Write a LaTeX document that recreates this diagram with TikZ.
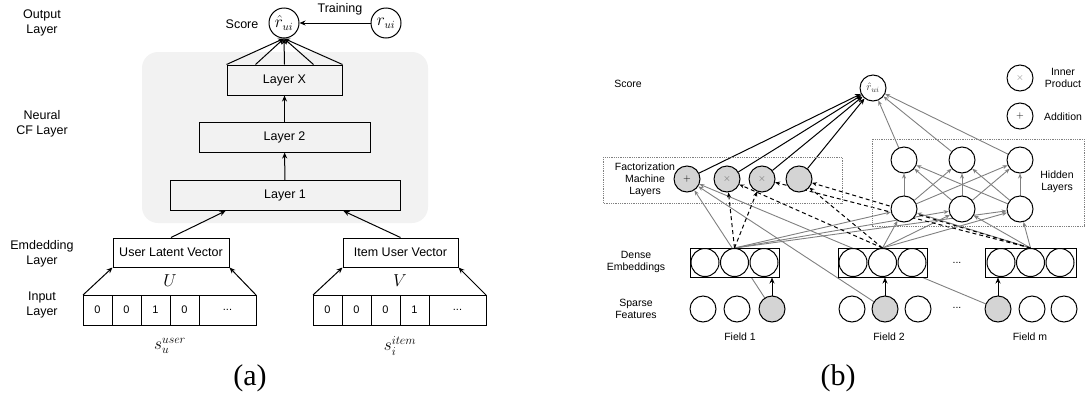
\documentclass[tikz,border=0pt]{standalone}
\usepackage{fontspec}
\setmainfont{Liberation Sans}
\newfontfamily\capfont{Liberation Serif}
\usetikzlibrary{arrows.meta,positioning,backgrounds}
\definecolor{panelc}{HTML}{F2F2F2}
\definecolor{unitc}{HTML}{D4D4D4}
\definecolor{wirec}{HTML}{808080}
\tikzset{
  tag/.style={align=center, font=\fontsize{12.5}{15}\selectfont},
  tagb/.style={align=center, font=\fontsize{10.5}{12}\selectfont},
  mathtag/.style={font=\fontsize{17}{19}\selectfont},
  layer/.style={draw, line width=1pt, minimum height=30pt, fill=white, font=\fontsize{12.5}{15}\selectfont},
  cell/.style={draw, line width=1pt, minimum width=29pt, minimum height=30pt, outer sep=0pt, inner sep=0pt, font=\fontsize{11}{13}\selectfont},
  unit/.style={draw, circle, line width=1pt, fill=white, inner sep=0pt, minimum size=26pt, font=\fontsize{10}{12}\selectfont},
  arr/.style={line width=1pt, -{Stealth[length=6pt,width=5pt]}},
  wire/.style={wirec, line width=0.9pt, -{Stealth[length=5pt,width=4pt]}},
  dashwire/.style={line width=1pt, dash pattern=on 4pt off 3pt, -{Stealth[length=5pt,width=4pt]}},
  frame/.style={draw=wirec, densely dotted, line width=0.8pt},
}

\begin{document}
\begin{tikzpicture}[x=1pt,y=-1pt]
\useasboundingbox (0,0) rectangle (1086,394);
% (a) neural collaborative filtering
\node[tag] (outl) at (42,23) {Output\\Layer};
\node[tag] (ncfl) at (42,124) {Neural\\CF Layer};
\node[tag] (embl) at (42,254) {Emdedding\\Layer};
\node[tag] (inl) at (42,305) {Input\\Layer};
\fill[panelc, rounded corners=16pt] (142,52) rectangle (428,223);
\node[layer, fill=none, minimum width=115pt] (lx) at (284.5,80) {Layer X};
\node[layer, fill=none, minimum width=171pt] (l2) at (284.5,137) {Layer 2};
\node[layer, fill=none, minimum width=230pt] (l1) at (285,195.5) {Layer 1};
\node[unit, minimum size=30pt, font=\fontsize{16}{18}\selectfont] (rhat) at (284,23) {$\hat{r}_{ui}$};
\node[unit, minimum size=30pt, font=\fontsize{16}{18}\selectfont] (rtrue) at (386,23) {$r_{ui}$};
\node[tag] (score) at (242,24) {Score};
\node[tag] (train) at (340,9) {Training};
\draw[arr] (rtrue) -- (rhat);
\draw[arr] (lx.north west) -- (rhat.south);
\draw[arr] ([xshift=29pt]lx.north west) -- (rhat.south);
\draw[arr] (lx.north) -- (rhat.south);
\draw[arr] ([xshift=-29pt]lx.north east) -- (rhat.south);
\draw[arr] (lx.north east) -- (rhat.south);
\draw[arr] (l2) -- (lx);
\draw[arr] (l1) -- (l2);
\node[layer, minimum width=116pt, minimum height=29pt] (uvec) at (171,252.5) {User Latent Vector};
\node[layer, minimum width=115pt, minimum height=29pt] (ivec) at (400.5,252.5) {Item User Vector};
\draw[arr] (uvec.north) -- ([xshift=56pt]l1.south west);
\draw[arr] (ivec.north) -- ([xshift=-57pt]l1.south east);
\node[cell] (u1) at (97.5,310) {0};
\node[cell, right=0pt of u1] (u2) {0};
\node[cell, right=0pt of u2] (u3) {1};
\node[cell, right=0pt of u3] (u4) {0};
\node[cell, right=0pt of u4, minimum width=57pt] (u5) {...};
\node[cell] (i1) at (327.5,310) {0};
\node[cell, right=0pt of i1] (i2) {0};
\node[cell, right=0pt of i2] (i3) {0};
\node[cell, right=0pt of i3] (i4) {1};
\node[cell, right=0pt of i4, minimum width=57pt] (i5) {...};
\draw[arr] (u1.north west) -- (uvec.south west);
\draw[arr] (u5.north east) -- (uvec.south east);
\draw[arr] (i1.north west) -- (ivec.south west);
\draw[arr] (i5.north east) -- (ivec.south east);
\node[mathtag] (ulab) at (170,281) {$U$};
\node[mathtag] (vlab) at (400,281) {$V$};
\node[mathtag] (sulab) at (170,346) {$s_u^{user}$};
\node[mathtag] (silab) at (400,346) {$s_i^{item}$};
\node[font=\capfont\fontsize{30}{32}\selectfont] (capa) at (250,378) {(a)};

% (b) factorization machine + hidden layers
\node[tagb] (scoreb) at (628,84) {Score};
\node[unit, text=black!75, font=\fontsize{11}{12}\selectfont] (rhatb) at (873,88) {$\hat{r}_{ui}$};
\node[unit, text=wirec] (legx) at (1020,78) {$\times$};
\node[tagb] (legxt) at (1063,78) {Inner\\Product};
\node[unit] (legp) at (1020,116) {$+$};
\node[tagb] (legpt) at (1063,117) {Addition};
\draw[frame] (603,157) rectangle (842,203);
\draw[frame] (872,139) rectangle (1084,226);
\node[tagb] (fmlab) at (645,180) {Factorization\\Machine\\Layers};
\node[tagb] (hidlab) at (1057,182) {Hidden\\Layers};
\node[unit, fill=unitc] (fmadd) at (687,179) {$+$};
\node[unit, fill=unitc, text=black!60] (fmx1) at (727,179) {$\times$};
\node[unit, fill=unitc, text=black!60] (fmx2) at (762,179) {$\times$};
\node[unit, fill=unitc] (fmdot) at (799,179) {};
\node[unit] (hu1) at (904,160) {};
\node[unit] (hu2) at (962,160) {};
\node[unit] (hu3) at (1020,160) {};
\node[unit] (hl1) at (904,209) {};
\node[unit] (hl2) at (962,209) {};
\node[unit] (hl3) at (1020,209) {};
\node[draw, line width=1pt, fill=white, minimum width=89pt, minimum height=29pt] (d1) at (734.5,262.5) {};
\node[draw, line width=1pt, fill=white, minimum width=89pt, minimum height=29pt] (d2) at (882.5,262.5) {};
\node[draw, line width=1pt, fill=white, minimum width=91pt, minimum height=29pt] (dm) at (1030.5,262.5) {};
\node[unit, minimum size=28pt] (d1a) at (705,262.5) {};
\node[unit, minimum size=28pt] (d1b) at (734.5,262.5) {};
\node[unit, minimum size=28pt] (d1c) at (764,262.5) {};
\node[unit, minimum size=28pt] (d2a) at (853,262.5) {};
\node[unit, minimum size=28pt] (d2b) at (882.5,262.5) {};
\node[unit, minimum size=28pt] (d2c) at (912,262.5) {};
\node[unit, minimum size=28pt] (dma) at (1001,262.5) {};
\node[unit, minimum size=28pt] (dmb) at (1030.5,262.5) {};
\node[unit, minimum size=28pt] (dmc) at (1060,262.5) {};
\node[unit] (s1a) at (703,309) {};
\node[unit] (s1b) at (737,309) {};
\node[unit, fill=unitc] (s1c) at (772,309) {};
\node[unit] (s2a) at (852,309) {};
\node[unit, fill=unitc] (s2b) at (885,309) {};
\node[unit] (s2c) at (918,309) {};
\node[unit, fill=unitc] (sma) at (998,309) {};
\node[unit] (smb) at (1032,309) {};
\node[unit] (smc) at (1064,309) {};
\node[tagb] (ddots) at (957,263) {...};
\node[tagb] (sdots) at (957,308) {...};
\node[tagb] (f1) at (740,337) {Field 1};
\node[tagb] (f2) at (889,337) {Field 2};
\node[tagb] (fm) at (1030,337) {Field m};
\node[tagb] (denlab) at (636,262) {Dense\\Embeddings};
\node[tagb] (sparlab) at (636,309) {Sparse\\Features};
\node[font=\capfont\fontsize{30}{32}\selectfont] (capb) at (838,378) {(b)};
\begin{scope}[on background layer]
\foreach \s in {s1c,s2b,sma} \draw[wire] (\s) -- (fmadd);
\foreach \d in {d1b,d2b,dmb} \foreach \h in {hl1,hl2,hl3} \draw[wire] (\d.north) -- (\h);
\foreach \a in {hl1,hl2,hl3} \foreach \b in {hu1,hu2,hu3} \draw[wire] (\a) -- (\b);
\foreach \h in {hu1,hu2,hu3} \draw[wire] (\h) -- (rhatb);
\foreach \f in {fmadd,fmx1,fmx2,fmdot} \draw[arr] (\f) -- (rhatb);
\draw[dashwire] (d1b.north) -- (fmx1);
\draw[dashwire] (d1b.north) -- (fmx2);
\draw[dashwire] (d2b.north) -- (fmx1);
\draw[dashwire] (d2b.north) -- (fmdot);
\draw[dashwire] (dmb.north) -- (fmx2);
\draw[dashwire] (dmb.north) -- (fmdot);
\draw[arr] (s1c) -- (s1c |- d1.south);
\draw[arr] (s2b) -- (s2b |- d2.south);
\draw[arr] (sma) -- (sma |- dm.south);
\end{scope}
\end{tikzpicture}
\end{document}
